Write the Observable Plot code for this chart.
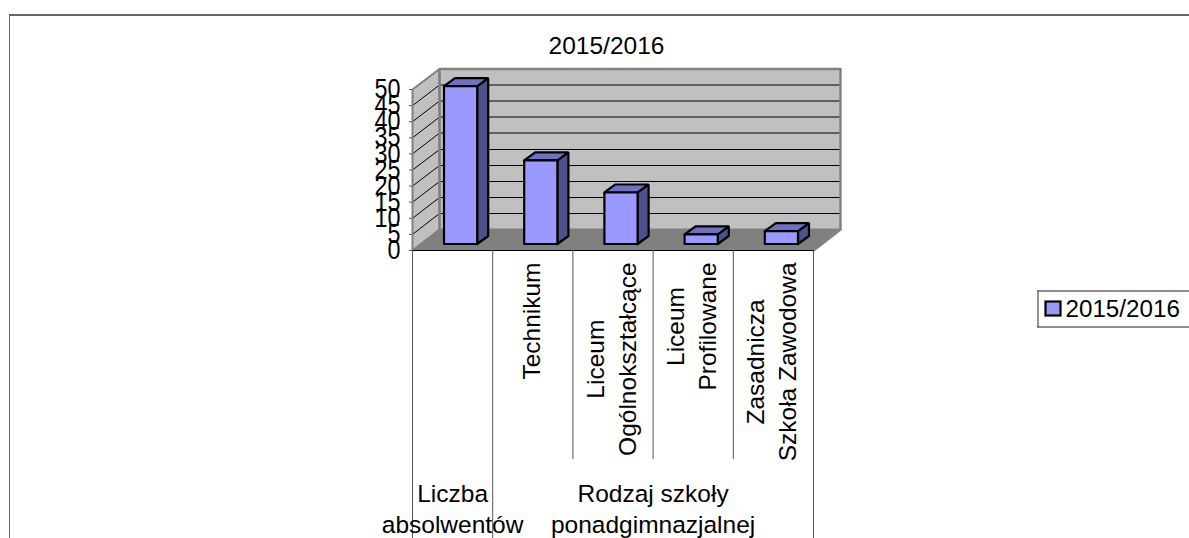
<!DOCTYPE html>
<html><head><meta charset="utf-8">
<script src="https://cdn.jsdelivr.net/npm/d3@7"></script>
<script src="https://cdn.jsdelivr.net/npm/@observablehq/plot@0.6"></script>
<style>html,body{margin:0;padding:0;background:#fff;overflow:hidden}svg{display:block}</style>
</head><body><div id="c"></div>
<script>
const seriesName = "2015/2016";
const categories = ["", "Technikum", "Liceum\nOgólnokształcące", "Liceum\nProfilowane", "Zasadnicza\nSzkoła Zawodowa"];
const values = [49, 26, 16, 3, 4];
const groupLabels = ["Liczba\nabsolwentów", "Rodzaj szkoły\nponadgimnazjalnej"];
const groupSpans = [[0, 1], [1, 5]];
const yTicks = d3.range(0, 51, 5);

const W = 1189, H = 538;
const mL = 412, mR = 376, mT = 89, mB = 288;
const ux = (W - mL - mR) / 5, uy = (H - mT - mB) / 50;
const X = px => (px - mL) / ux, Y = py => (H - mB - py) / uy;   // pixel layout -> data units
const font = '"Liberation Sans", Arial, sans-serif';
const FS = 24.5, LH = 1.3;

const dx = X(439), dy = Y(228);                 // wall depth
const backY = t => Y(229 - 3.2 * t - (t >= 30 ? 0.5 : 0));   // back wall is drawn slightly foreshortened
const bx0 = 31.5 / ux, bw = 33.2 / ux, bBase = 6.5 / uy, bdx = 11 / ux, bdy = 8 / uy;

const poly = (id, pts) => [...pts, pts[0]].map(([x, y]) => ({id, x, y}));
const front = [], side = [], top_ = [];
values.forEach((v, i) => {
  const a = i + bx0, b = a + bw, y0 = bBase, y1 = bBase + v;
  side.push(...poly(i, [[b, y0], [b + bdx, y0 + bdy], [b + bdx, y1 + bdy], [b, y1]]));
  top_.push(...poly(i, [[a, y1], [a + bdx, y1 + bdy], [b + bdx, y1 + bdy], [b, y1]]));
  front.push(...poly(i, [[a, y0], [b, y0], [b, y1], [a, y1]]));
});
const barStyle = {x: "x", y: "y", z: "id", stroke: "#000", strokeWidth: 2.2, strokeLinejoin: "miter"};

const ctx = document.createElement("canvas").getContext("2d");
ctx.font = `${FS}px "Liberation Sans"`;
const blockW = s => Math.max(...s.split("\n").map(l => ctx.measureText(l).width));
const catRows = categories.map((c, i) => ({c, x: i + .5, y: Y(262 + blockW(c) / 2)})).filter(d => d.c);
const inner = yTicks.filter(t => t > 0 && t < 50);

const chart = Plot.plot({
  width: W, height: H,
  marginLeft: mL, marginRight: mR, marginTop: mT, marginBottom: mB,
  style: {fontFamily: font, background: "#fff", overflow: "visible"},
  x: {domain: [0, 5], axis: null},
  y: {domain: [0, 50], axis: null},
  marks: [
    // outer chart frame
    Plot.ruleY([Y(14.5)], {x1: X(9), x2: X(W), stroke: "#333", strokeWidth: 1.4}),
    Plot.ruleX([X(9)], {y1: Y(15), y2: Y(H), stroke: "#666", strokeWidth: 1}),
    // walls and floor
    Plot.rect([0], {x1: dx, x2: dx + 5, y1: Y(229), y2: Y(69), fill: "#c0c0c0", inset: 0}),
    Plot.line(poly(0, [[0, 0], [dx, Y(229)], [dx, Y(69)], [0, 50]]), {x: "x", y: "y", fill: "#c0c0c0"}),
    Plot.line(poly(0, [[0, 0], [dx, dy], [dx + 5, dy], [5, 0]]), {x: "x", y: "y", fill: "#808080"}),
    // gridlines: back wall and side wall
    Plot.ruleY(inner, {y: backY, x1: dx, x2: dx + 5, stroke: "#000", strokeWidth: 1}),
    Plot.link(inner, {x1: 0, y1: t => t, x2: dx, y2: backY, stroke: "#000", strokeWidth: 1}),
    Plot.line(poly(0, [[0, 0], [dx, Y(229)], [dx, Y(68.5)], [0, 50]]), {x: "x", y: "y", stroke: "#808080", strokeWidth: 2}),
    Plot.line([[dx, Y(229)], [dx, Y(68.5)], [dx + 5, Y(68.5)], [dx + 5, Y(229)], [5, 0]], {x: "0", y: "1", stroke: "#808080", strokeWidth: 2.4}),
    Plot.ruleY([0], {x1: 0, x2: 5, stroke: "#000", strokeWidth: 1}),
    // separators under the axis
    Plot.ruleX([0, 1, 5], {y1: 0, y2: Y(H), stroke: "#555", strokeWidth: 1}),
    Plot.ruleX([2, 3, 4], {y1: 0, y2: Y(459), stroke: "#555", strokeWidth: 1}),
    // 3D bars
    Plot.line(side, {...barStyle, fill: "#50508c"}),
    Plot.line(top_, {...barStyle, fill: "#7070c0"}),
    Plot.line(front, {...barStyle, fill: "#9999ff"}),
    // axis
    Plot.axisY({ticks: yTicks, tickSize: 3, tickPadding: 9, fontSize: 27, label: null, tickFormat: d => d, stroke: "#555", color: "#000"}),
    // labels
    Plot.text(catRows, {x: "x", y: "y", text: "c", rotate: -90, dx: -3.5, fontSize: FS, fill: "#000", lineHeight: LH}),
    Plot.text(groupLabels, {x: (d, i) => (groupSpans[i][0] + groupSpans[i][1]) / 2, y: Y(507), text: d => d, fontSize: FS, fill: "#000", lineHeight: 1.27}),
    // title
    Plot.text([seriesName], {x: X(606), y: Y(46), text: d => d, fontSize: FS, fill: "#000"}),
    // legend
    Plot.ruleY([Y(290.5), Y(326.5)], {x1: X(1037), x2: X(W), stroke: "#666", strokeWidth: 1.4}),
    Plot.ruleX([X(1037.5)], {y1: Y(290), y2: Y(327), stroke: "#666", strokeWidth: 1.4}),
    Plot.rect([0], {x1: X(1045.5), x2: X(1060.5), y1: Y(301.5), y2: Y(315.5), fill: "#9999ff", stroke: "#000", strokeWidth: 2.2}),
    Plot.text([seriesName], {x: X(1065), y: Y(309), text: d => d, fontSize: 24.2, textAnchor: "start", fill: "#000"})
  ]
});
chart.querySelectorAll('g[aria-label="y-axis tick label"] text').forEach(t => {
  t.setAttribute("textLength", t.textContent.length * 13);
  t.setAttribute("lengthAdjust", "spacingAndGlyphs");
});
document.getElementById("c").appendChild(chart);
</script></body></html>
